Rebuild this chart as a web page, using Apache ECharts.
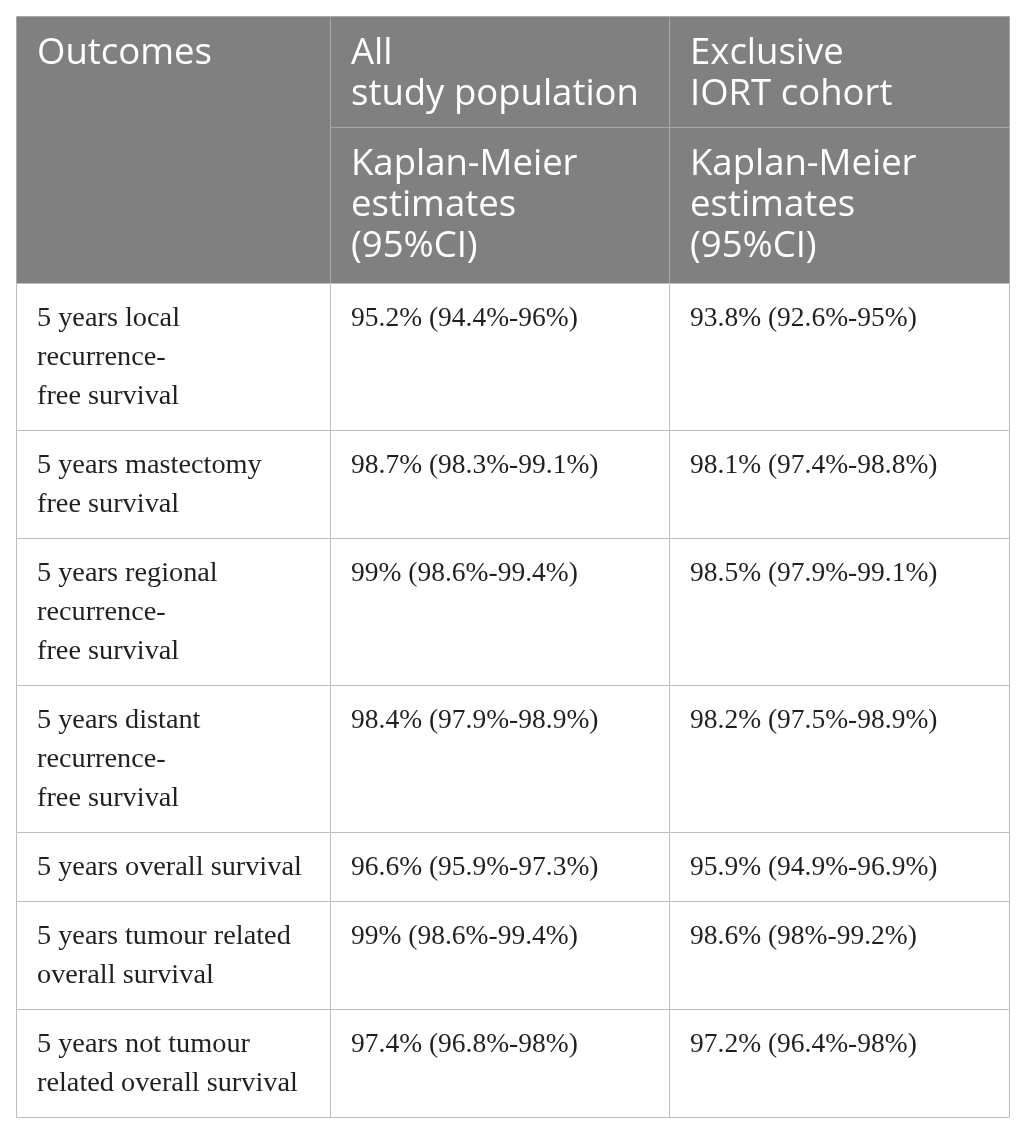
<!DOCTYPE html>
<html><head><meta charset="utf-8">
<script src="https://cdn.jsdelivr.net/npm/echarts@6/dist/echarts.min.js"></script>
<style>html,body{margin:0;padding:0;background:#fff}#chart{width:1025px;height:1132px}</style>
</head><body><div id="chart"></div>
<script>
// ---- table content ----
const headerTitles = ["Outcomes", "All\nstudy population", "Exclusive\nIORT cohort"];
const subHeaderTitles = ["Kaplan-Meier\nestimates\n(95%CI)", "Kaplan-Meier\nestimates\n(95%CI)"];
const outcomes = [
  "5 years local\nrecurrence-\nfree survival",
  "5 years mastectomy\nfree survival",
  "5 years regional\nrecurrence-\nfree survival",
  "5 years distant\nrecurrence-\nfree survival",
  "5 years overall survival",
  "5 years tumour related\noverall survival",
  "5 years not tumour\nrelated overall survival"
];
const allStudyPopulation = [
  "95.2% (94.4%-96%)",
  "98.7% (98.3%-99.1%)",
  "99% (98.6%-99.4%)",
  "98.4% (97.9%-98.9%)",
  "96.6% (95.9%-97.3%)",
  "99% (98.6%-99.4%)",
  "97.4% (96.8%-98%)"
];
const exclusiveIortCohort = [
  "93.8% (92.6%-95%)",
  "98.1% (97.4%-98.8%)",
  "98.5% (97.9%-99.1%)",
  "98.2% (97.5%-98.9%)",
  "95.9% (94.9%-96.9%)",
  "98.6% (98%-99.2%)",
  "97.2% (96.4%-98%)"
];

// ---- layout (sizes only) ----
const colWidths = [314, 339, 340];
const headerRowHeights = [111, 156];
const bodyLineH = 39, bodyPad = 30;
const tableLeft = 16, tableTop = 16;

const colX = [0];
colWidths.forEach((w, i) => colX.push(colX[i] + w));
const tableW = colX[colX.length - 1];

const cells = [];
// header
const h0 = 0, h1 = headerRowHeights[0], h2 = headerRowHeights[0] + headerRowHeights[1];
cells.push({x0: colX[0], x1: colX[1], y0: h0, y1: h2, text: headerTitles[0], kind: 'head', col: 0});
cells.push({x0: colX[1], x1: colX[2], y0: h0, y1: h1, text: headerTitles[1], kind: 'head', col: 1});
cells.push({x0: colX[2], x1: colX[3], y0: h0, y1: h1, text: headerTitles[2], kind: 'head', col: 2});
cells.push({x0: colX[1], x1: colX[2], y0: h1, y1: h2, text: subHeaderTitles[0], kind: 'head', col: 1});
cells.push({x0: colX[2], x1: colX[3], y0: h1, y1: h2, text: subHeaderTitles[1], kind: 'head', col: 2});
// body
let y = h2;
outcomes.forEach((o, i) => {
  const row = [o, allStudyPopulation[i], exclusiveIortCohort[i]];
  const lines = Math.max(...row.map(t => t.split('\n').length));
  const h = lines * bodyLineH + bodyPad;
  row.forEach((t, c) => cells.push({x0: colX[c], x1: colX[c + 1], y0: y, y1: y + h, text: t, kind: 'body', col: c}));
  y += h;
});
const tableH = y;

const chart = echarts.init(document.getElementById('chart'), null, {renderer: 'canvas'});
chart.setOption({
  backgroundColor: '#ffffff',
  animation: false,
  grid: {left: tableLeft, top: tableTop, width: tableW, height: tableH, containLabel: false},
  xAxis: {type: 'value', min: 0, max: tableW, show: false},
  yAxis: {type: 'value', min: 0, max: tableH, inverse: true, show: false},
  series: [{
    type: 'custom',
    coordinateSystem: 'cartesian2d',
    data: cells.map(c => [c.x0, c.y0, c.x1, c.y1]),
    renderItem: function (params, api) {
      const c = cells[params.dataIndex];
      const p0 = api.coord([api.value(0), api.value(1)]);
      const p1 = api.coord([api.value(2), api.value(3)]);
      const x = Math.round(p0[0]) + 0.5, yy = Math.round(p0[1]) + 0.5;
      const w = Math.round(p1[0]) - Math.round(p0[0]);
      const h = Math.round(p1[1]) - Math.round(p0[1]);
      const head = c.kind === 'head';
      return {
        type: 'group',
        children: [
          {type: 'rect', shape: {x: x, y: yy, width: w, height: h},
           style: {fill: head ? '#808080' : '#ffffff', stroke: head ? '#a8a8a8' : '#bdbdbd', lineWidth: 1}},
          {type: 'text',
           style: {
             x: x + 20.5, y: yy + (head ? 16.5 : 15.5),
             text: c.text,
             fill: head ? '#ffffff' : '#231f20',
             fontFamily: head ? '"Open Sans", sans-serif' : '"Liberation Serif", serif',
             fontSize: head ? 36.5 : (c.col === 0 ? 28.3 : 27.5),
             lineHeight: head ? 41 : bodyLineH,
             align: 'left', verticalAlign: 'top'
           }}
        ]
      };
    }
  }]
});
</script></body></html>
